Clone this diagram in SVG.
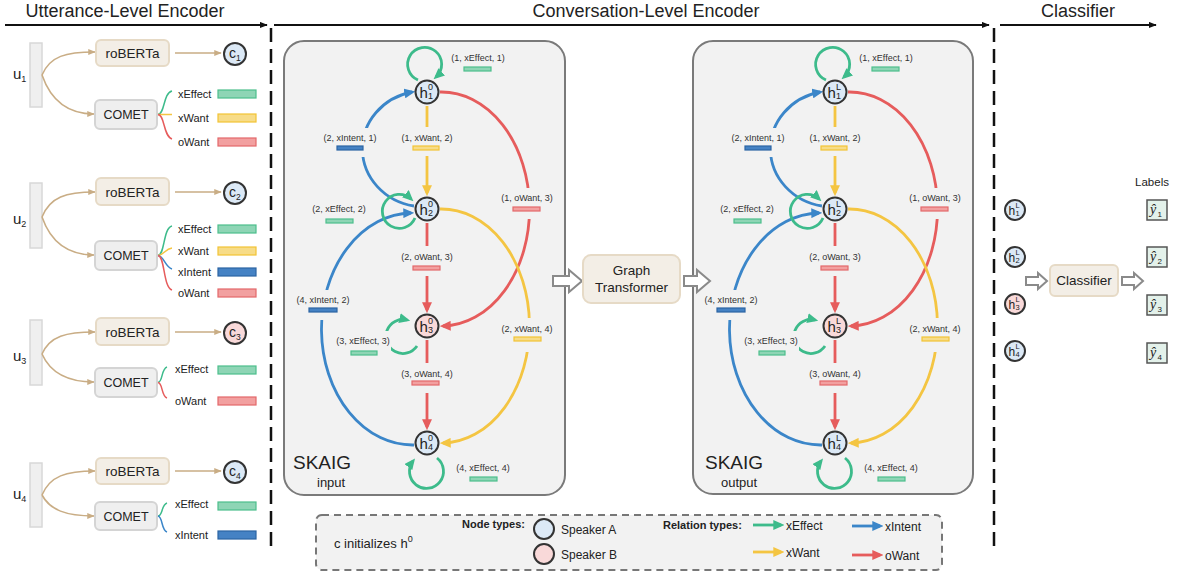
<svg xmlns="http://www.w3.org/2000/svg" width="1182" height="577" viewBox="0 0 1182 577">
<style>
text{font-family:"Liberation Sans",Arial,sans-serif;fill:#222}
.hdr{font-size:18px;text-anchor:middle}
.bar{fill:#efefef;stroke:#d8d8d8;stroke-width:1.5}
.rob{fill:#f3eee6;stroke:#e6dac6;stroke-width:2}
.com{fill:#efefef;stroke:#d4d4d4;stroke-width:2}
.bt{font-size:13.5px;text-anchor:middle}
.ct{font-size:12.5px;text-anchor:middle}
.lt{font-size:11px}
.tan{fill:none;stroke:#c9ad85;stroke-width:1.6}
.cA{fill:#dce9f6;stroke:#333;stroke-width:2}
.cB{fill:#f9d9d9;stroke:#333;stroke-width:2}
.gE{fill:#8ed5b5;stroke:#4cbf8c;stroke-width:1.2}
.gW{fill:#f7dc88;stroke:#f2c335;stroke-width:1.2}
.gI{fill:#4582c4;stroke:#2c64a3;stroke-width:1.2}
.gO{fill:#f2a0a0;stroke:#e3686a;stroke-width:1.2}
.panel{fill:#f2f2f2;stroke:#7a7a7a;stroke-width:2}
.eG{fill:none;stroke:#3dbb8b;stroke-width:2.8}
.eB{fill:none;stroke:#3b86c9;stroke-width:2.8}
.eY{fill:none;stroke:#f4c542;stroke-width:2.8}
.eR{fill:none;stroke:#e65c5c;stroke-width:2.8}
.lbg{fill:#f2f2f2}
.el{font-size:9px;text-anchor:middle;fill:#333}
.nh{font-size:15px}
.ns{font-size:9px}
.dash{stroke:#111;stroke-width:2.5;stroke-dasharray:14 7}
.hollow{fill:#fff;stroke:#8a8a8a;stroke-width:2}
.ch{font-size:12px}
.cs{font-size:7.5px}
.yb{fill:#e3f1ea;stroke:#555;stroke-width:1.5}
.yh{font-family:"Liberation Serif",serif;font-style:italic;font-size:14px}
</style>
<defs>
<marker id="mK" viewBox="0 0 10 8" refX="9" refY="4" markerWidth="8" markerHeight="7" markerUnits="userSpaceOnUse" orient="auto"><path d="M0,0 L10,4 L0,8 z" fill="#111"/></marker>
<marker id="mT" viewBox="0 0 10 8" refX="9" refY="4" markerWidth="8" markerHeight="6" markerUnits="userSpaceOnUse" orient="auto"><path d="M0,0 L10,4 L0,8 z" fill="#c9ad85"/></marker>
<marker id="mG" viewBox="0 0 10 9" refX="7" refY="4.5" markerWidth="11" markerHeight="10" markerUnits="userSpaceOnUse" orient="auto"><path d="M0,0 L10,4.5 L0,9 z" fill="#3dbb8b"/></marker>
<marker id="mB" viewBox="0 0 10 9" refX="7" refY="4.5" markerWidth="11" markerHeight="10" markerUnits="userSpaceOnUse" orient="auto"><path d="M0,0 L10,4.5 L0,9 z" fill="#3b86c9"/></marker>
<marker id="mY" viewBox="0 0 10 9" refX="7" refY="4.5" markerWidth="11" markerHeight="10" markerUnits="userSpaceOnUse" orient="auto"><path d="M0,0 L10,4.5 L0,9 z" fill="#f4c542"/></marker>
<marker id="mR" viewBox="0 0 10 9" refX="7" refY="4.5" markerWidth="11" markerHeight="10" markerUnits="userSpaceOnUse" orient="auto"><path d="M0,0 L10,4.5 L0,9 z" fill="#e65c5c"/></marker>
</defs>
<rect width="1182" height="577" fill="#fff"/>

<!-- headers -->
<g id="headers">
<text x="125" y="17" class="hdr">Utterance-Level Encoder</text>
<line x1="5" y1="25" x2="267" y2="25" stroke="#111" stroke-width="2" marker-end="url(#mK)"/>
<text x="646" y="17" class="hdr">Conversation-Level Encoder</text>
<line x1="274" y1="25" x2="989" y2="25" stroke="#111" stroke-width="2" marker-end="url(#mK)"/>
<text x="1078" y="17" class="hdr">Classifier</text>
<line x1="1000" y1="25" x2="1156" y2="25" stroke="#111" stroke-width="2" marker-end="url(#mK)"/>
<line x1="271" y1="28" x2="271" y2="551" class="dash"/>
<line x1="994" y1="28" x2="994" y2="551" class="dash"/>
</g>

<!-- Utterance 1 -->
<g id="utt1">
<rect x="30" y="43" width="12" height="64" class="bar"/>
<text x="13" y="79" font-size="15">u<tspan font-size="9" dy="3">1</tspan></text>
<path d="M42,75 C50,56 66,52 95,52" class="tan" marker-end="url(#mT)"/>
<path d="M42,75 C50,98 66,114 94,114" class="tan" marker-end="url(#mT)"/>
<rect x="96" y="40" width="73" height="26" rx="5" class="rob"/>
<text x="132.5" y="58" class="bt">roBERTa</text>
<line x1="175" y1="53" x2="221" y2="53" class="tan" marker-end="url(#mT)"/>
<rect x="95" y="100" width="62" height="29" rx="5" class="com"/>
<text x="126" y="119" class="ct">COMET</text>
<path d="M158,114.5 C165,114 163,93 172,91" fill="none" stroke="#3dbb8b" stroke-width="1.5"/>
<path d="M158,114.5 L172,114.5" fill="none" stroke="#f4c542" stroke-width="1.5"/>
<path d="M158,114.5 C165,115 163,136 172,139" fill="none" stroke="#e65c5c" stroke-width="1.5"/>
<text x="178" y="98" class="lt">xEffect</text><rect x="218" y="90" width="38" height="8" class="gE"/>
<text x="178" y="122" class="lt">xWant</text><rect x="218" y="114" width="38" height="8" class="gW"/>
<text x="178" y="146" class="lt">oWant</text><rect x="218" y="138" width="38" height="8" class="gO"/>
</g>
<g id="c1"><circle cx="235" cy="54" r="11" class="cA"/><text x="229" y="58" font-size="14">c<tspan font-size="8.5" dy="3">1</tspan></text></g>

<!-- Utterance 2 -->
<g id="utt2">
<rect x="30" y="183" width="12" height="65" class="bar"/>
<text x="13" y="224" font-size="15">u<tspan font-size="9" dy="3">2</tspan></text>
<path d="M42,217 C50,197 66,192 95,192" class="tan" marker-end="url(#mT)"/>
<path d="M42,217 C50,240 66,255 94,255" class="tan" marker-end="url(#mT)"/>
<rect x="96" y="178" width="73" height="27" rx="5" class="rob"/>
<text x="132.5" y="196.5" class="bt">roBERTa</text>
<line x1="175" y1="192" x2="221" y2="192" class="tan" marker-end="url(#mT)"/>
<rect x="95" y="241" width="62" height="29" rx="5" class="com"/>
<text x="126" y="260" class="ct">COMET</text>
<path d="M158,255.5 C165,255 163,228 172,226" fill="none" stroke="#3dbb8b" stroke-width="1.5"/>
<path d="M158,255.5 C164,255 165,249 172,248" fill="none" stroke="#f4c542" stroke-width="1.5"/>
<path d="M158,255.5 C164,256 165,267 172,269" fill="none" stroke="#3b86c9" stroke-width="1.5"/>
<path d="M158,255.5 C165,256 163,287 172,290" fill="none" stroke="#e65c5c" stroke-width="1.5"/>
<text x="178" y="233" class="lt">xEffect</text><rect x="218" y="225" width="38" height="8" class="gE"/>
<text x="178" y="255" class="lt">xWant</text><rect x="218" y="247" width="38" height="8" class="gW"/>
<text x="178" y="276" class="lt">xIntent</text><rect x="218" y="268" width="38" height="8" class="gI"/>
<text x="178" y="297" class="lt">oWant</text><rect x="218" y="289" width="38" height="8" class="gO"/>
</g>
<g id="c2"><circle cx="235" cy="193" r="11" class="cA"/><text x="229" y="197" font-size="14">c<tspan font-size="8.5" dy="3">2</tspan></text></g>

<!-- Utterance 3 -->
<g id="utt3">
<rect x="30" y="320" width="12" height="65" class="bar"/>
<text x="13" y="361" font-size="15">u<tspan font-size="9" dy="3">3</tspan></text>
<path d="M42,354 C50,336 66,332 95,332" class="tan" marker-end="url(#mT)"/>
<path d="M42,354 C50,372 66,382 94,382" class="tan" marker-end="url(#mT)"/>
<rect x="96" y="318" width="73" height="27" rx="5" class="rob"/>
<text x="132.5" y="336.5" class="bt">roBERTa</text>
<line x1="175" y1="332" x2="221" y2="332" class="tan" marker-end="url(#mT)"/>
<rect x="95" y="368" width="62" height="29" rx="5" class="com"/>
<text x="126" y="387" class="ct">COMET</text>
<path d="M158,382.5 C163,382 161,369 167,367" fill="none" stroke="#3dbb8b" stroke-width="1.5"/>
<path d="M158,382.5 C163,383 161,396 167,398" fill="none" stroke="#e65c5c" stroke-width="1.5"/>
<text x="175" y="373" class="lt">xEffect</text><rect x="218" y="366" width="38" height="8" class="gE"/>
<text x="175" y="405" class="lt">oWant</text><rect x="218" y="397" width="38" height="8" class="gO"/>
</g>
<g id="c3"><circle cx="235" cy="333" r="11" class="cB"/><text x="229" y="337" font-size="14">c<tspan font-size="8.5" dy="3">3</tspan></text></g>

<!-- Utterance 4 -->
<g id="utt4">
<rect x="30" y="463" width="12" height="64" class="bar"/>
<text x="13" y="499" font-size="15">u<tspan font-size="9" dy="3">4</tspan></text>
<path d="M42,495 C50,476 66,471 95,471" class="tan" marker-end="url(#mT)"/>
<path d="M42,495 C50,510 66,516 94,516" class="tan" marker-end="url(#mT)"/>
<rect x="96" y="458" width="73" height="26" rx="5" class="rob"/>
<text x="132.5" y="476" class="bt">roBERTa</text>
<line x1="175" y1="471" x2="221" y2="471" class="tan" marker-end="url(#mT)"/>
<rect x="95" y="502" width="62" height="28" rx="5" class="com"/>
<text x="126" y="520.5" class="ct">COMET</text>
<path d="M158,516 C163,516 161,505 167,503" fill="none" stroke="#3dbb8b" stroke-width="1.5"/>
<path d="M158,516 C163,517 161,530 167,532" fill="none" stroke="#3b86c9" stroke-width="1.5"/>
<text x="175" y="508" class="lt">xEffect</text><rect x="218" y="502" width="38" height="8" class="gE"/>
<text x="175" y="539" class="lt">xIntent</text><rect x="218" y="531" width="38" height="8" class="gI"/>
</g>
<g id="c4"><circle cx="235" cy="472" r="11" class="cA"/><text x="229" y="476" font-size="14">c<tspan font-size="8.5" dy="3">4</tspan></text></g>

<!-- Graph 1 (input) -->
<g id="skaig-input">
<rect x="284" y="41" width="281" height="454" rx="20" class="panel"/>
<g id="g1-edges">
<path d="M418,80 A17,17 0 1 1 436,77" class="eG" marker-end="url(#mG)"/>
<path d="M414,206 A62,58 0 0 1 412,92" class="eB" marker-end="url(#mB)"/>
<path d="M427,106 L427,193" class="eY" marker-end="url(#mY)"/>
<path d="M440,92 A88,117 0 0 1 443,326" class="eR" marker-end="url(#mR)"/>
<path d="M440,209 A88,117 0 0 1 443,443" class="eY" marker-end="url(#mY)"/>
<path d="M427,223 L427,310" class="eR" marker-end="url(#mR)"/>
<path d="M414,445 A91,116 0 0 1 411,213" class="eB" marker-end="url(#mB)"/>
<path d="M415,218 A17,17 0 1 1 411,199" class="eG" marker-end="url(#mG)"/>
<path d="M417,346 A17,17 0 1 1 407,320" class="eG" marker-end="url(#mG)"/>
<path d="M427,340 L427,427" class="eR" marker-end="url(#mR)"/>
<path d="M437,458 A17,17 0 1 1 413,461" class="eG" marker-end="url(#mG)"/>
</g>
<g id="g1-labels">
<rect x="451" y="50" width="54" height="26" class="lbg"/><text x="478" y="61" class="el">(1, xEffect, 1)</text><rect x="464" y="67" width="27" height="4" class="gE"/>
<rect x="323" y="128" width="54" height="29" class="lbg"/><text x="350" y="141" class="el">(2, xIntent, 1)</text><rect x="337" y="146" width="26" height="4" class="gI"/>
<rect x="400" y="127" width="54" height="29" class="lbg"/><text x="427" y="141" class="el">(1, xWant, 2)</text><rect x="413" y="146" width="26" height="4" class="gW"/>
<rect x="312" y="201" width="54" height="24" class="lbg"/><text x="339" y="212" class="el">(2, xEffect, 2)</text><rect x="326" y="219" width="27" height="4" class="gE"/>
<rect x="500" y="188" width="54" height="31" class="lbg"/><text x="527" y="201" class="el">(1, oWant, 3)</text><rect x="513" y="207" width="27" height="4" class="gO"/>
<rect x="400" y="246" width="54" height="30" class="lbg"/><text x="427" y="260" class="el">(2, oWant, 3)</text><rect x="413" y="266" width="27" height="4" class="gO"/>
<rect x="296" y="290" width="54" height="30" class="lbg"/><text x="323" y="303" class="el">(4, xIntent, 2)</text><rect x="309" y="308" width="28" height="4" class="gI"/>
<rect x="500" y="318" width="54" height="34" class="lbg"/><text x="527" y="332" class="el">(2, xWant, 4)</text><rect x="514" y="337" width="27" height="4" class="gW"/>
<rect x="335" y="331" width="56" height="26" class="lbg"/><text x="363" y="344" class="el">(3, xEffect, 3)</text><rect x="351" y="351" width="26" height="4" class="gE"/>
<rect x="400" y="363" width="54" height="30" class="lbg"/><text x="427" y="377" class="el">(3, oWant, 4)</text><rect x="412" y="381" width="27" height="4" class="gO"/>
<text x="483" y="471" class="el">(4, xEffect, 4)</text><rect x="470" y="477" width="27" height="4" class="gE"/>
</g>
<g id="g1-h1"><circle cx="427" cy="92" r="11.5" class="cA"/><text x="419.5" y="98" class="nh">h</text><text x="428" y="90" class="ns">0</text><text x="428" y="99" class="ns">1</text></g>
<g id="g1-h2"><circle cx="427" cy="209" r="11.5" class="cA"/><text x="419.5" y="215" class="nh">h</text><text x="428" y="207" class="ns">0</text><text x="428" y="216" class="ns">2</text></g>
<g id="g1-h3"><circle cx="427" cy="326" r="11.5" class="cB"/><text x="419.5" y="332" class="nh">h</text><text x="428" y="324" class="ns">0</text><text x="428" y="333" class="ns">3</text></g>
<g id="g1-h4"><circle cx="427" cy="443" r="11.5" class="cA"/><text x="419.5" y="449" class="nh">h</text><text x="428" y="441" class="ns">0</text><text x="428" y="450" class="ns">4</text></g>
<text x="293" y="469" font-size="19">SKAIG</text>
<text x="317" y="487" font-size="13">input</text>
</g>

<!-- Graph 2 (output) -->
<g id="skaig-output" transform="translate(408,0)">
<rect x="285" y="41" width="280" height="453" rx="20" class="panel"/>
<g id="g2-edges">
<path d="M418,80 A17,17 0 1 1 436,77" class="eG" marker-end="url(#mG)"/>
<path d="M414,206 A62,58 0 0 1 412,92" class="eB" marker-end="url(#mB)"/>
<path d="M427,106 L427,193" class="eY" marker-end="url(#mY)"/>
<path d="M440,92 A88,117 0 0 1 443,326" class="eR" marker-end="url(#mR)"/>
<path d="M440,209 A88,117 0 0 1 443,443" class="eY" marker-end="url(#mY)"/>
<path d="M427,223 L427,310" class="eR" marker-end="url(#mR)"/>
<path d="M414,445 A91,116 0 0 1 411,213" class="eB" marker-end="url(#mB)"/>
<path d="M415,218 A17,17 0 1 1 411,199" class="eG" marker-end="url(#mG)"/>
<path d="M417,346 A17,17 0 1 1 407,320" class="eG" marker-end="url(#mG)"/>
<path d="M427,340 L427,427" class="eR" marker-end="url(#mR)"/>
<path d="M437,458 A17,17 0 1 1 413,461" class="eG" marker-end="url(#mG)"/>
</g>
<g id="g2-labels">
<rect x="451" y="50" width="54" height="26" class="lbg"/><text x="478" y="61" class="el">(1, xEffect, 1)</text><rect x="464" y="67" width="27" height="4" class="gE"/>
<rect x="323" y="128" width="54" height="29" class="lbg"/><text x="350" y="141" class="el">(2, xIntent, 1)</text><rect x="337" y="146" width="26" height="4" class="gI"/>
<rect x="400" y="127" width="54" height="29" class="lbg"/><text x="427" y="141" class="el">(1, xWant, 2)</text><rect x="413" y="146" width="26" height="4" class="gW"/>
<rect x="312" y="201" width="54" height="24" class="lbg"/><text x="339" y="212" class="el">(2, xEffect, 2)</text><rect x="326" y="219" width="27" height="4" class="gE"/>
<rect x="500" y="188" width="54" height="31" class="lbg"/><text x="527" y="201" class="el">(1, oWant, 3)</text><rect x="513" y="207" width="27" height="4" class="gO"/>
<rect x="400" y="246" width="54" height="30" class="lbg"/><text x="427" y="260" class="el">(2, oWant, 3)</text><rect x="413" y="266" width="27" height="4" class="gO"/>
<rect x="296" y="290" width="54" height="30" class="lbg"/><text x="323" y="303" class="el">(4, xIntent, 2)</text><rect x="309" y="308" width="28" height="4" class="gI"/>
<rect x="500" y="318" width="54" height="34" class="lbg"/><text x="527" y="332" class="el">(2, xWant, 4)</text><rect x="514" y="337" width="27" height="4" class="gW"/>
<rect x="335" y="331" width="56" height="26" class="lbg"/><text x="363" y="344" class="el">(3, xEffect, 3)</text><rect x="351" y="351" width="26" height="4" class="gE"/>
<rect x="400" y="363" width="54" height="30" class="lbg"/><text x="427" y="377" class="el">(3, oWant, 4)</text><rect x="412" y="381" width="27" height="4" class="gO"/>
<text x="483" y="471" class="el">(4, xEffect, 4)</text><rect x="470" y="477" width="27" height="4" class="gE"/>
</g>
<g id="g2-h1"><circle cx="427" cy="92" r="11.5" class="cA"/><text x="419.5" y="98" class="nh">h</text><text x="428" y="90" class="ns">L</text><text x="428" y="99" class="ns">1</text></g>
<g id="g2-h2"><circle cx="427" cy="209" r="11.5" class="cA"/><text x="419.5" y="215" class="nh">h</text><text x="428" y="207" class="ns">L</text><text x="428" y="216" class="ns">2</text></g>
<g id="g2-h3"><circle cx="427" cy="326" r="11.5" class="cB"/><text x="419.5" y="332" class="nh">h</text><text x="428" y="324" class="ns">L</text><text x="428" y="333" class="ns">3</text></g>
<g id="g2-h4"><circle cx="427" cy="443" r="11.5" class="cA"/><text x="419.5" y="449" class="nh">h</text><text x="428" y="441" class="ns">L</text><text x="428" y="450" class="ns">4</text></g>
<text x="297" y="469" font-size="19">SKAIG</text>
<text x="313" y="487" font-size="13">output</text>
</g>

<!-- Graph Transformer -->
<g id="graph-transformer">
<polygon points="553,276 569,276 569,270 582,281 569,292 569,286 553,286" class="hollow"/>
<rect x="583" y="255" width="97" height="48" rx="8" class="rob"/>
<text x="631.5" y="275" class="bt">Graph</text>
<text x="631.5" y="292" class="bt">Transformer</text>
<polygon points="684,276 697,276 697,270 710,281 697,292 697,286 684,286" class="hollow"/>
</g>

<!-- Classifier -->
<g id="cls-h1"><circle cx="1015" cy="210" r="10" class="cA" stroke-width="1.5"/><text x="1008.5" y="215" class="ch">h</text><text x="1015.5" y="208" class="cs">L</text><text x="1015.5" y="216" class="cs">1</text></g>
<g id="cls-h2"><circle cx="1015" cy="257" r="10" class="cA" stroke-width="1.5"/><text x="1008.5" y="262" class="ch">h</text><text x="1015.5" y="255" class="cs">L</text><text x="1015.5" y="263" class="cs">2</text></g>
<g id="cls-h3"><circle cx="1015" cy="304" r="10" class="cB" stroke-width="1.5"/><text x="1008.5" y="309" class="ch">h</text><text x="1015.5" y="302" class="cs">L</text><text x="1015.5" y="310" class="cs">3</text></g>
<g id="cls-h4"><circle cx="1015" cy="351" r="10" class="cA" stroke-width="1.5"/><text x="1008.5" y="356" class="ch">h</text><text x="1015.5" y="349" class="cs">L</text><text x="1015.5" y="357" class="cs">4</text></g>
<g id="classifier">
<polygon points="1026,277 1038,277 1038,273 1047,281 1038,289 1038,285 1026,285" class="hollow" stroke-width="1.5"/>
<rect x="1050" y="265" width="68" height="31" rx="5" class="rob"/>
<text x="1084" y="285" class="bt">Classifier</text>
<polygon points="1122,277 1134,277 1134,273 1143,281 1134,289 1134,285 1122,285" class="hollow" stroke-width="1.5"/>
</g>
<g id="labels">
<text x="1152" y="186" font-size="11.5" text-anchor="middle">Labels</text>
<g id="y1"><rect x="1147" y="200" width="20" height="20" class="yb"/><text x="1150" y="214" class="yh">ŷ</text><text x="1157.5" y="217" font-size="8">1</text></g>
<g id="y2"><rect x="1147" y="247" width="20" height="20" class="yb"/><text x="1150" y="261" class="yh">ŷ</text><text x="1157.5" y="264" font-size="8">2</text></g>
<g id="y3"><rect x="1147" y="295" width="20" height="20" class="yb"/><text x="1150" y="309" class="yh">ŷ</text><text x="1157.5" y="312" font-size="8">3</text></g>
<g id="y4"><rect x="1147" y="343" width="20" height="20" class="yb"/><text x="1150" y="357" class="yh">ŷ</text><text x="1157.5" y="360" font-size="8">4</text></g>
</g>

<!-- Legend -->
<g id="legend">
<rect x="316" y="515" width="626" height="55" rx="6" fill="#f2f2f2" stroke="#777" stroke-width="2" stroke-dasharray="7 5"/>
<text x="334" y="548" font-size="13">c initializes h<tspan font-size="9" dy="-6">0</tspan></text>
<text x="462" y="528" font-size="11" font-weight="bold">Node types:</text>
<circle cx="544" cy="529" r="10" class="cA" stroke-width="1.5"/>
<text x="561" y="534" font-size="12">Speaker A</text>
<circle cx="544" cy="554" r="10" class="cB" stroke-width="1.5"/>
<text x="561" y="559" font-size="12">Speaker B</text>
<text x="663" y="529" font-size="11" font-weight="bold">Relation types:</text>
<line x1="753" y1="525" x2="781" y2="525" class="eG" marker-end="url(#mG)"/>
<text x="786" y="530" font-size="12">xEffect</text>
<line x1="852" y1="526" x2="880" y2="526" class="eB" marker-end="url(#mB)"/>
<text x="885" y="531" font-size="12">xIntent</text>
<line x1="753" y1="552" x2="781" y2="552" class="eY" marker-end="url(#mY)"/>
<text x="786" y="557" font-size="12">xWant</text>
<line x1="852" y1="555" x2="880" y2="555" class="eR" marker-end="url(#mR)"/>
<text x="885" y="560" font-size="12">oWant</text>
</g>
</svg>
